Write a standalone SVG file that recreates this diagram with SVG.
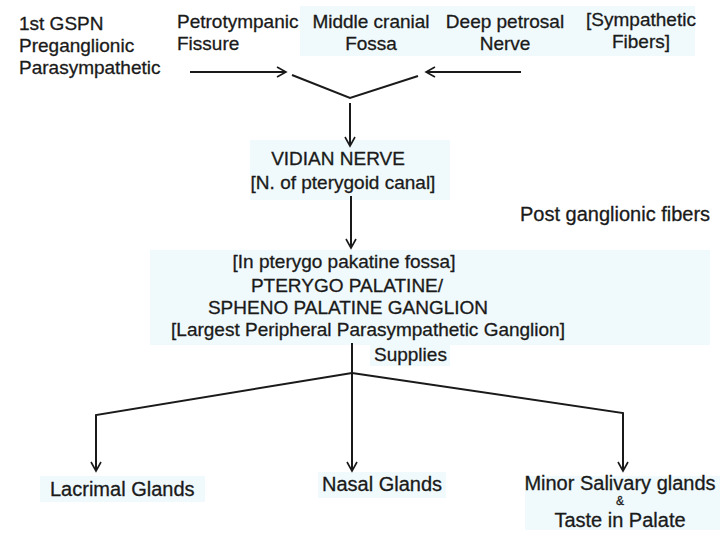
<svg xmlns="http://www.w3.org/2000/svg" width="728" height="534" viewBox="0 0 728 534">
<defs>
<marker id="ah" markerWidth="12" markerHeight="12" refX="10" refY="6" orient="auto" markerUnits="userSpaceOnUse">
<path d="M1,1 L10,6 L1,11" fill="none" stroke="#1a1a1a" stroke-width="1.6"/>
</marker>
</defs>
<style>
text{font-family:"Liberation Sans",Arial,sans-serif;fill:#1a1a1a;stroke:#1a1a1a;stroke-width:0.3;font-size:19px}
.c{text-anchor:middle}
.b{font-size:20px}
.ln{fill:none;stroke:#1a1a1a;stroke-width:2}
.tint{fill:#f0f9fb}
</style>
<rect width="728" height="534" fill="#ffffff"/>
<g id="background">
<rect class="tint" x="300" y="6" width="395" height="50"/>
<rect class="tint" x="250" y="140" width="200" height="60"/>
<rect class="tint" x="150" y="250" width="560" height="95"/>
<rect class="tint" x="370" y="344" width="80" height="22"/>
<rect class="tint" x="40" y="476" width="165" height="26"/>
<rect class="tint" x="318" y="472" width="128" height="26"/>
<rect class="tint" x="525" y="476" width="195" height="54"/>
</g>
<g id="connectors">
<line class="ln" x1="190" y1="72" x2="286" y2="72" marker-end="url(#ah)"/>
<polyline class="ln" points="292,75 350,98 418,76"/>
<line class="ln" x1="521" y1="72" x2="426" y2="72" marker-end="url(#ah)"/>
<line class="ln" x1="350" y1="103" x2="350" y2="146" marker-end="url(#ah)"/>
<line class="ln" x1="351" y1="196" x2="351" y2="248" marker-end="url(#ah)"/>
<line class="ln" x1="352" y1="343" x2="352" y2="373"/>
<polyline class="ln" points="352,373 96,415 96,471" marker-end="url(#ah)"/>
<line class="ln" x1="352" y1="373" x2="352" y2="471" marker-end="url(#ah)"/>
<polyline class="ln" points="352,373 623,413 623,471" marker-end="url(#ah)"/>
</g>
<g id="gspn">
<text x="19" y="30">1st GSPN</text>
<text x="19" y="52">Preganglionic</text>
<text x="19" y="74">Parasympathetic</text>
</g>
<g id="petrotympanic">
<text x="177" y="28">Petrotympanic</text>
<text x="177" y="50">Fissure</text>
</g>
<g id="middle-cranial">
<text class="c" x="371" y="28">Middle cranial</text>
<text class="c" x="371" y="50">Fossa</text>
</g>
<g id="deep-petrosal">
<text class="c" x="505" y="28">Deep petrosal</text>
<text class="c" x="505" y="50">Nerve</text>
</g>
<g id="sympathetic">
<text class="c" x="641" y="26">[Sympathetic</text>
<text class="c" x="641" y="48">Fibers]</text>
</g>
<g id="vidian">
<text class="c" x="338" y="165">VIDIAN NERVE</text>
<text class="c" x="343" y="189">[N. of pterygoid canal]</text>
</g>
<g id="post-ganglionic">
<text class="b" x="520" y="221">Post ganglionic fibers</text>
</g>
<g id="ganglion">
<text class="c" x="344" y="268">[In pterygo pakatine fossa]</text>
<text class="c" x="347" y="292">PTERYGO PALATINE/</text>
<text class="c" x="348" y="314">SPHENO PALATINE GANGLION</text>
<text class="c" x="368" y="336">[Largest Peripheral Parasympathetic Ganglion]</text>
</g>
<g id="supplies">
<text x="374" y="361">Supplies</text>
</g>
<g id="lacrimal">
<text class="b" x="50" y="496">Lacrimal Glands</text>
</g>
<g id="nasal">
<text class="b" x="322" y="491">Nasal Glands</text>
</g>
<g id="minor-salivary">
<text class="c b" x="620" y="490">Minor Salivary glands</text>
<text class="c" x="620" y="505" style="font-size:12px">&amp;</text>
<text class="c b" x="620" y="527">Taste in Palate</text>
</g>
</svg>
